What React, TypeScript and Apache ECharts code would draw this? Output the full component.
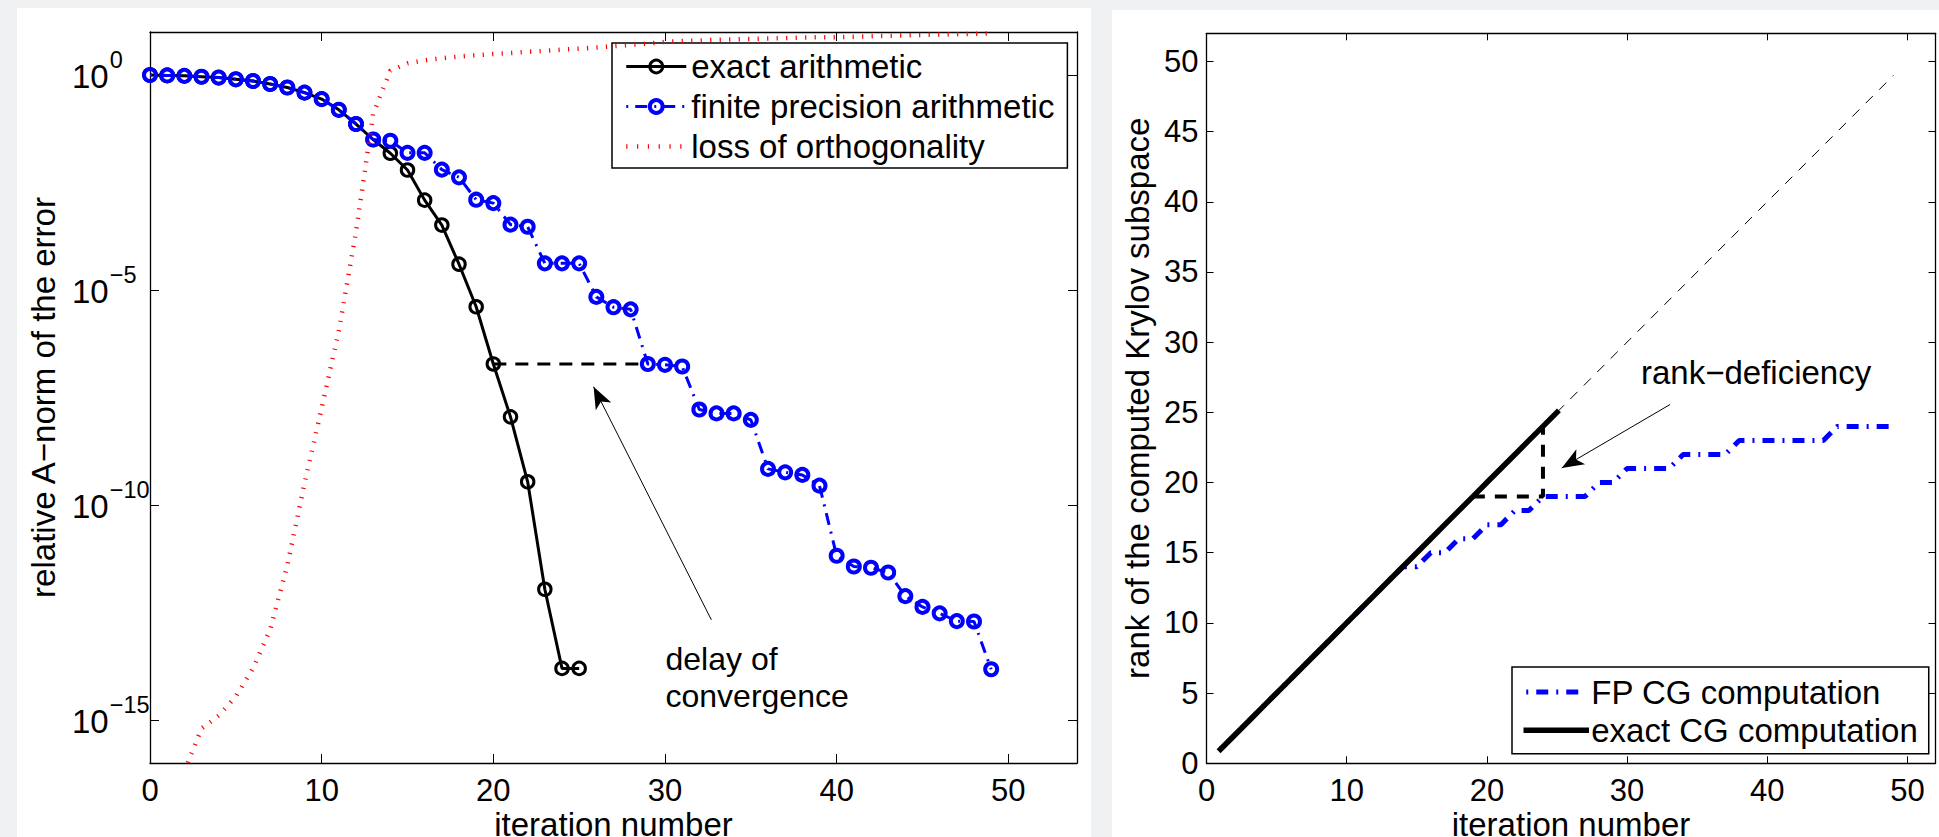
import React, { useEffect, useRef } from "react";
import * as echarts from "echarts";

const FONT = "'Liberation Sans', Arial, Helvetica, sans-serif";

// ---------- Left panel: relative A-norm of the error (log10 values) ----------
const finiteIter = [
  0, 1, 2, 3, 4, 5, 6, 7, 8, 9, 10, 11, 12, 13, 14, 15, 16, 17, 18, 19, 20, 21, 22, 23, 24,
  25, 26, 27, 28, 29, 30, 31, 32, 33, 34, 35, 36, 37, 38, 39, 40, 41, 42, 43, 44, 45, 46, 47, 48, 49,
];
const finiteLog10 = [
  0, -0.01, -0.02, -0.04, -0.06, -0.1, -0.14, -0.21, -0.29, -0.41,
  -0.56, -0.81, -1.14, -1.5, -1.53, -1.81, -1.81, -2.2, -2.38, -2.9,
  -2.98, -3.48, -3.53, -4.38, -4.38, -4.38, -5.16, -5.4, -5.45, -6.72,
  -6.74, -6.78, -7.78, -7.87, -7.87, -8.02, -9.16, -9.24, -9.3, -9.55,
  -11.18, -11.43, -11.46, -11.57, -12.12, -12.37, -12.52, -12.7, -12.71, -13.82,
];
const exactIter = [0, 1, 2, 3, 4, 5, 6, 7, 8, 9, 10, 11, 12, 13, 14, 15, 16, 17, 18, 19, 20, 21, 22, 23, 24, 25];
const exactLog10 = [
  0, -0.01, -0.02, -0.04, -0.06, -0.1, -0.14, -0.21, -0.29, -0.41,
  -0.56, -0.81, -1.14, -1.5, -1.82, -2.21, -2.91, -3.49, -4.4, -5.39,
  -6.72, -7.95, -9.46, -11.96, -13.8, -13.8,
];
const lossIter = [
  2, 3, 4, 5, 6, 7, 8, 9, 10, 11, 12, 13, 14, 15, 16, 17, 18, 19, 20, 21, 22, 23, 24, 25,
  26, 27, 28, 29, 30, 31, 32, 33, 34, 35, 36, 37, 38, 39, 40, 41, 42, 43, 44, 45, 46, 47, 48, 49,
];
const lossLog10 = [
  -16.2, -15.2, -14.9, -14.45, -13.8, -12.9, -11.4, -9.5, -7.75, -5.95, -3.65, -0.9,
  0.1, 0.27, 0.34, 0.39, 0.43, 0.46, 0.49, 0.51, 0.54, 0.56, 0.59, 0.61,
  0.64, 0.67, 0.7, 0.73, 0.77, 0.79, 0.8, 0.82, 0.83, 0.84, 0.85, 0.86,
  0.87, 0.88, 0.88, 0.89, 0.9, 0.91, 0.92, 0.93, 0.94, 0.95, 0.96, 0.97,
];
const delayIter = [20, 29];
const delayLog10 = [-6.72, -6.72];
const delayArrowFrom = [32.7, -12.67];
const delayArrowTo = [25.84, -7.25];
const leftYTickExponents = [0, -5, -10, -15];

// ---------- Right panel: rank of the computed Krylov subspace ----------
const exactCgIter = [1, 2, 3, 4, 5, 6, 7, 8, 9, 10, 11, 12, 13, 14, 15, 16, 17, 18, 19, 20, 21, 22, 23, 24, 25];
const exactCgRank = [1, 2, 3, 4, 5, 6, 7, 8, 9, 10, 11, 12, 13, 14, 15, 16, 17, 18, 19, 20, 21, 22, 23, 24, 25];
const fpIter = [
  1, 2, 3, 4, 5, 6, 7, 8, 9, 10, 11, 12, 13, 14, 15, 16, 17, 18, 19, 20, 21, 22, 23, 24, 25,
  26, 27, 28, 29, 30, 31, 32, 33, 34, 35, 36, 37, 38, 39, 40, 41, 42, 43, 44, 45, 46, 47, 48, 49,
];
const fpRank = [
  1, 2, 3, 4, 5, 6, 7, 8, 9, 10, 11, 12, 13, 14, 14, 15, 15, 16, 16, 17, 17, 18, 18, 19, 19,
  19, 19, 20, 20, 21, 21, 21, 21, 22, 22, 22, 22, 23, 23, 23, 23, 23, 23, 23, 24, 24, 24, 24, 24,
];
const idealIter = [25, 49];
const idealRank = [25, 49];
const deficiencyIter = [19, 24, 24];
const deficiencyRank = [19, 19, 24];
const rankArrowFrom = [33.07, 25.56];
const rankArrowTo = [25.34, 21.04];

const BLUE = "#0000ff";
const BLACK = "#000000";
const RED = "#ff0000";
const blueDashLeft = [2, 7, 12, 7];
const blueDashRight = [2, 8, 12, 8];
const redDots = [1.2, 8.3];

const pow10 = (e: number) => Math.pow(10, e);

const axisLine = { show: true, onZero: false, lineStyle: { color: BLACK, width: 1.3 } };
const tickStyle = (len: number) => ({ show: true, inside: true, length: len, lineStyle: { color: BLACK, width: 1 } });
const labelText = { color: BLACK, fontSize: 31, fontFamily: FONT };
const nameText = { color: BLACK, fontSize: 33, fontFamily: FONT };
const xNameText = { color: BLACK, fontSize: 33, fontFamily: FONT, lineHeight: 24 };

function buildOption(): any {
  const logLabelValues = leftYTickExponents.map(pow10);
  const logFormatter = (v: number) => {
    const e = v > 0 ? Math.round(Math.log10(v)) : Math.round(v);
    const sup = e === 0 ? "0" : "\u2212" + Math.abs(e);
    return `{b|10}{s|${sup}}`;
  };

  return {
    animation: false,
    backgroundColor: "#f0f1f3",
    grid: [
      { left: 150, top: 32, width: 927, height: 731, outerBoundsMode: "none", containLabel: false },
      { left: 1206.5, top: 33.3, width: 729, height: 730, outerBoundsMode: "none", containLabel: false },
    ],
    xAxis: [
      {
        gridIndex: 0, type: "value", position: "bottom", min: 0, max: 54, interval: 10,
        axisLine, axisTick: tickStyle(9),
        axisLabel: { ...labelText, margin: 12, showMaxLabel: false },
        splitLine: { show: false },
        name: "iteration number", nameLocation: "middle", nameGap: 49.5, nameTextStyle: xNameText,
        nameMoveOverlap: false,
      },
      {
        gridIndex: 0, type: "value", position: "top", min: 0, max: 54, interval: 10,
        axisLine, axisTick: tickStyle(9), axisLabel: { show: false }, splitLine: { show: false },
      },
      {
        gridIndex: 1, type: "value", position: "bottom", min: 0, max: 52, interval: 10,
        axisLine, axisTick: tickStyle(7),
        axisLabel: { ...labelText, margin: 12, showMaxLabel: false },
        splitLine: { show: false },
        name: "iteration number", nameLocation: "middle", nameGap: 49.5, nameTextStyle: xNameText,
        nameMoveOverlap: false,
      },
      {
        gridIndex: 1, type: "value", position: "top", min: 0, max: 52, interval: 10,
        axisLine, axisTick: tickStyle(7), axisLabel: { show: false }, splitLine: { show: false },
      },
    ],
    yAxis: [
      {
        gridIndex: 0, type: "log", logBase: 10, position: "left", min: 1e-16, max: 10,
        axisLine,
        axisTick: { ...tickStyle(9), customValues: logLabelValues },
        axisLabel: {
          customValues: logLabelValues,
          align: "left",
          margin: 78,
          padding: [0, 0, 13, 0],
          formatter: logFormatter,
          rich: {
            b: { color: BLACK, fontSize: 33, lineHeight: 32, fontFamily: FONT, padding: [16.5, 0, 0, 0] },
            s: { color: BLACK, fontSize: 23.5, lineHeight: 22, fontFamily: FONT, padding: [0, 0, 16.5, 1] },
          },
        },
        splitLine: { show: false },
        minorTick: { show: false },
        name: "relative A\u2212norm of the error", nameLocation: "middle", nameGap: 90.5, nameTextStyle: nameText,
        nameMoveOverlap: false,
      },
      {
        gridIndex: 0, type: "log", logBase: 10, position: "right", min: 1e-16, max: 10,
        axisLine,
        axisTick: { ...tickStyle(9), customValues: logLabelValues },
        axisLabel: { show: false },
        splitLine: { show: false },
      },
      {
        gridIndex: 1, type: "value", position: "left", min: 0, max: 52, interval: 5,
        axisLine, axisTick: tickStyle(7),
        axisLabel: { ...labelText, margin: 8, showMaxLabel: false },
        splitLine: { show: false },
        name: "rank of the computed Krylov subspace", nameLocation: "middle", nameGap: 53, nameTextStyle: nameText,
        nameMoveOverlap: false,
      },
      {
        gridIndex: 1, type: "value", position: "right", min: 0, max: 52, interval: 5,
        axisLine, axisTick: tickStyle(7), axisLabel: { show: false }, splitLine: { show: false },
      },
    ],
    legend: [
      {
        left: 612, top: 43, orient: "vertical", selectedMode: false,
        padding: [7, 13, 5, 12], itemGap: 7, itemWidth: 60, itemHeight: 16,
        backgroundColor: "#ffffff", borderColor: BLACK, borderWidth: 1.5, borderRadius: 0,
        textStyle: { color: BLACK, fontSize: 33, lineHeight: 33, fontFamily: FONT },
        data: [
          {
            name: "exact arithmetic",
            itemStyle: { color: "rgba(0,0,0,0)", borderColor: BLACK, borderWidth: 3 },
            lineStyle: { color: BLACK, width: 3, type: "solid" },
          },
          {
            name: "finite precision arithmetic",
            itemStyle: { color: "rgba(0,0,0,0)", borderColor: BLUE, borderWidth: 4 },
            lineStyle: { color: BLUE, width: 3, type: blueDashLeft },
          },
          {
            name: "loss of orthogonality",
            itemStyle: { opacity: 0 },
            lineStyle: { color: RED, width: 4.5, type: [1.2, 9.6] },
          },
        ],
      },
      {
        left: 1512, top: 667, orient: "vertical", selectedMode: false,
        padding: [8.5, 11, 7, 11.5], itemGap: 5.3, itemWidth: 60, itemHeight: 16,
        backgroundColor: "#ffffff", borderColor: BLACK, borderWidth: 1.5, borderRadius: 0,
        textStyle: { color: BLACK, fontSize: 33, lineHeight: 33, fontFamily: FONT },
        data: [
          {
            name: "FP CG computation",
            itemStyle: { opacity: 0 },
            lineStyle: { color: BLUE, width: 5, type: blueDashRight },
          },
          {
            name: "exact CG computation",
            itemStyle: { opacity: 0 },
            lineStyle: { color: BLACK, width: 5.5, type: "solid" },
          },
        ],
      },
    ],
    series: [
      {
        name: "exact arithmetic", type: "line", xAxisIndex: 0, yAxisIndex: 0, z: 2,
        data: exactIter.map((x, i) => [x, pow10(exactLog10[i])]),
        symbol: "circle", symbolSize: 12.5, showSymbol: true,
        itemStyle: { color: "rgba(0,0,0,0)", borderColor: BLACK, borderWidth: 3 },
        lineStyle: { color: BLACK, width: 3 },
        emphasis: { disabled: true },
      },
      {
        name: "finite precision arithmetic", type: "line", xAxisIndex: 0, yAxisIndex: 0, z: 3,
        data: finiteIter.map((x, i) => [x, pow10(finiteLog10[i])]),
        symbol: "circle", symbolSize: 12, showSymbol: true,
        itemStyle: { color: "rgba(0,0,0,0)", borderColor: BLUE, borderWidth: 4 },
        lineStyle: { color: BLUE, width: 3, type: blueDashLeft },
        emphasis: { disabled: true },
      },
      {
        name: "loss of orthogonality", type: "line", xAxisIndex: 0, yAxisIndex: 0, z: 4,
        data: lossIter.map((x, i) => [x, pow10(lossLog10[i])]),
        symbol: "none", showSymbol: false,
        lineStyle: { color: RED, width: 4.5, type: redDots },
        emphasis: { disabled: true },
      },
      {
        name: "delay", type: "line", xAxisIndex: 0, yAxisIndex: 0, z: 2,
        data: delayIter.map((x, i) => [x, pow10(delayLog10[i])]),
        symbol: "none", showSymbol: false,
        lineStyle: { color: BLACK, width: 3, type: [13, 9] },
        emphasis: { disabled: true },
        markLine: {
          silent: true, symbol: ["none", "arrow"], symbolSize: [13, 22],
          label: { show: false },
          lineStyle: { color: BLACK, width: 1, type: "solid" },
          itemStyle: { color: BLACK },
          data: [[
            { coord: [delayArrowFrom[0], pow10(delayArrowFrom[1])] },
            { coord: [delayArrowTo[0], pow10(delayArrowTo[1])] },
          ]],
        },
      },
      {
        name: "FP CG computation", type: "line", xAxisIndex: 2, yAxisIndex: 2, z: 2,
        data: fpIter.map((x, i) => [x, fpRank[i]]),
        symbol: "none", showSymbol: false,
        lineStyle: { color: BLUE, width: 5, type: blueDashRight },
        emphasis: { disabled: true },
      },
      {
        name: "exact CG computation", type: "line", xAxisIndex: 2, yAxisIndex: 2, z: 3,
        data: exactCgIter.map((x, i) => [x, exactCgRank[i]]),
        symbol: "none", showSymbol: false,
        lineStyle: { color: BLACK, width: 5.5, cap: "square" },
        emphasis: { disabled: true },
      },
      {
        name: "ideal", type: "line", xAxisIndex: 2, yAxisIndex: 2, z: 2,
        data: idealIter.map((x, i) => [x, idealRank[i]]),
        symbol: "none", showSymbol: false,
        lineStyle: { color: BLACK, width: 1, type: [10, 9] },
        emphasis: { disabled: true },
      },
      {
        name: "deficiency", type: "line", xAxisIndex: 2, yAxisIndex: 2, z: 2,
        data: deficiencyIter.map((x, i) => [x, deficiencyRank[i]]),
        symbol: "none", showSymbol: false,
        lineStyle: { color: BLACK, width: 4, type: [12, 10] },
        emphasis: { disabled: true },
        markLine: {
          silent: true, symbol: ["none", "arrow"], symbolSize: [13, 22],
          label: { show: false },
          lineStyle: { color: BLACK, width: 1, type: "solid" },
          itemStyle: { color: BLACK },
          data: [[
            { coord: [rankArrowFrom[0], rankArrowFrom[1]] },
            { coord: [rankArrowTo[0], rankArrowTo[1]] },
          ]],
        },
      },
    ],
    graphic: [
      { type: "rect", z: -10, silent: true, shape: { x: 17, y: 8, width: 1074, height: 829 }, style: { fill: "#ffffff" } },
      { type: "rect", z: -10, silent: true, shape: { x: 1112, y: 10, width: 827, height: 827 }, style: { fill: "#ffffff" } },
      {
        type: "text", z: 10, silent: true, x: 665.5, y: 640,
        style: { text: "delay of\nconvergence", fontSize: 32, fontFamily: FONT, fill: BLACK, lineHeight: 37.4, verticalAlign: "top" },
      },
      {
        type: "text", z: 10, silent: true, x: 1641, y: 355.5,
        style: { text: "rank\u2212deficiency", fontSize: 33, fontFamily: FONT, fill: BLACK, lineHeight: 33, verticalAlign: "top" },
      },
    ],
  };
}

export default function App() {
  const ref = useRef<HTMLDivElement>(null);
  useEffect(() => {
    if (!ref.current) return;
    const chart = echarts.init(ref.current, null, { renderer: "svg", width: 1939, height: 837 });
    chart.setOption(buildOption());
    return () => chart.dispose();
  }, []);
  return (
    <div
      ref={ref}
      style={{ position: "absolute", left: 0, top: 0, width: 1939, height: 837 }}
    />
  );
}
